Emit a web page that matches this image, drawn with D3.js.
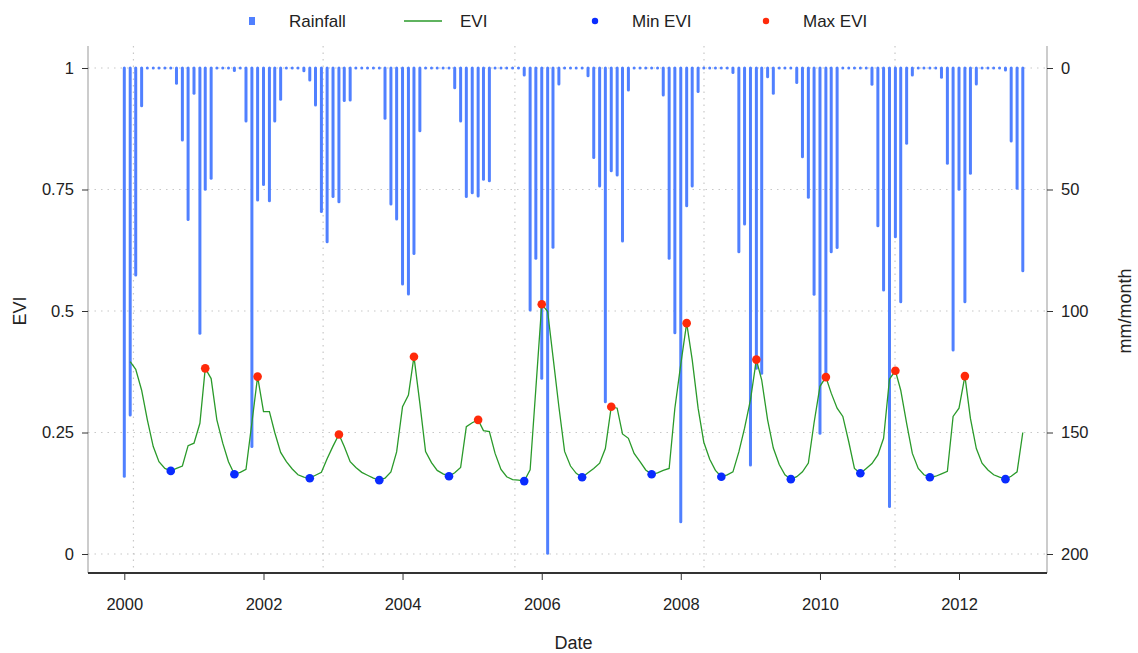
<!DOCTYPE html>
<html><head><meta charset="utf-8">
<script src="https://cdn.jsdelivr.net/npm/d3@7"></script>
<style>
body{margin:0;background:#fff;}
text{font-family:"Liberation Sans",Arial,Helvetica,sans-serif;}
</style></head>
<body><svg id="c" width="1138" height="653"></svg>
<script>
// ---------- data ----------
const startMonth = "2000-01";           // first month of rainfall series
const evStartMonth = "2000-02";         // first month of EVI series
const rainfall = [
 168,142.8,85.2,15.5,0,0,0,0,0,6.3,29.6,62.3,
 10.4,109.2,49.9,45.4,0,0,0,1,0,21.8,155.8,54.3,
 47.9,54.6,21.8,12.9,0,0,0,1.1,4.9,15.2,59.1,71.5,
 52.9,55,13.4,13.2,0,0,0,0,0,20.7,56,62.1,
 88.9,93,76.3,25.8,0,0,0,0,0,8.1,21.8,52.9,
 51.3,52.7,45.8,46.4,0,0,0,0,0,2.9,99.6,78.3,
 127.7,199.7,73.8,6.6,0,0,0,0,3.2,36.8,48.6,137.3,
 42.3,44,71.2,9.1,0,0,0,0,0,11.1,78.3,108.9,
 186.7,56.7,48.6,9.7,0,0,0,0,0,1.9,75.6,64.2,
 163.4,123.6,125.6,3.6,10.4,0,0,0,6,36.5,53.2,93.1,
 150.3,127,75.6,73.9,0,0,0,0,0,6.7,64.9,91.4,
 180.5,69.4,96.2,31,2.9,0,0,0,0,3.8,39.2,116,
 49.9,96.2,43.3,6.6,0,0,0,0,0.8,30,49.5,83.4
];
const evi = [
 0.396,0.380,0.337,0.276,0.221,0.190,0.176,0.171,0.176,0.181,0.223,
 0.228,0.269,0.382,0.361,0.276,0.228,0.190,0.164,0.168,0.174,0.270,0.365,
 0.293,0.293,0.250,0.209,0.190,0.175,0.163,0.158,0.156,0.162,0.168,0.196,
 0.222,0.246,0.221,0.190,0.178,0.168,0.162,0.156,0.152,0.156,0.169,0.210,
 0.303,0.327,0.406,0.310,0.211,0.188,0.172,0.165,0.160,0.167,0.178,0.262,
 0.270,0.276,0.254,0.252,0.207,0.174,0.159,0.153,0.152,0.150,0.173,0.340,
 0.514,0.499,0.406,0.303,0.211,0.181,0.166,0.158,0.167,0.176,0.187,0.217,
 0.303,0.300,0.247,0.238,0.207,0.190,0.173,0.164,0.167,0.172,0.176,0.300,
 0.390,0.475,0.400,0.300,0.230,0.195,0.172,0.159,0.163,0.169,0.210,0.259,
 0.317,0.400,0.358,0.276,0.218,0.184,0.163,0.154,0.159,0.169,0.187,0.270,
 0.345,0.364,0.331,0.300,0.283,0.231,0.176,0.166,0.176,0.186,0.204,0.238,
 0.360,0.377,0.337,0.269,0.207,0.176,0.163,0.158,0.160,0.165,0.170,0.283,
 0.300,0.366,0.279,0.217,0.187,0.173,0.163,0.158,0.154,0.160,0.169,0.250
];
const minMonths = ["2000-09","2001-08","2002-09","2003-09","2004-09","2005-10","2006-08","2007-08","2008-08","2009-08","2010-08","2011-08","2012-09"];
const maxMonths = ["2001-03","2001-12","2003-02","2004-03","2005-02","2006-01","2007-01","2008-02","2009-02","2010-02","2011-02","2012-02"];
const eviTicks = [0,0.25,0.5,0.75,1];
const eviTickLabels = ["0","0.25","0.5","0.75","1"];
const rainTicks = [0,50,100,150,200];
const yearTicks = [2000,2002,2004,2006,2008,2010,2012];
const gridDates = ["2000-02-18","2002-11-10","2005-08-13","2008-05-02","2011-01-30"];
const legendItems = ["Rainfall","EVI","Min EVI","Max EVI"];

// ---------- helpers ----------
const parseM = d3.timeParse("%Y-%m");
const parseD = d3.timeParse("%Y-%m-%d");
const addMonths = (d,n)=>d3.timeMonth.offset(d,n);
const rainData = rainfall.map((v,i)=>({date:addMonths(parseM(startMonth),i),v}));
const eviData = evi.map((v,i)=>({date:addMonths(parseM(evStartMonth),i),v}));
const eviByKey = new Map(eviData.map(d=>[d3.timeFormat("%Y-%m")(d.date),d]));
const minPts = minMonths.map(k=>eviByKey.get(k));
const maxPts = maxMonths.map(k=>eviByKey.get(k));

// ---------- layout ----------
const L=88, R=1047, T=46, B=573;
const x = d3.scaleTime().domain([new Date(2000,0,1), new Date(2012,0,1)]).range([124.3, 959]);
const yE = d3.scaleLinear().domain([0,1]).range([554,68]);
const yR = d3.scaleLinear().domain([0,200]).range([68,554]);

const svg = d3.select("#c");
const COL_RAIN="#5080ff", COL_EVI="#2a9a2a", COL_MIN="#0a2cff", COL_MAX="#ff2a0a";
const gridStyle = s=>s.attr("stroke","#c8c8c8").attr("stroke-width",1.2).attr("stroke-dasharray","1.5,5");

// grid
svg.append("g").selectAll("line").data(eviTicks).join("line")
  .attr("x1",L).attr("x2",R).attr("y1",d=>yE(d)).attr("y2",d=>yE(d)).call(gridStyle);
svg.append("g").selectAll("line").data(gridDates).join("line")
  .attr("x1",d=>x(parseD(d))).attr("x2",d=>x(parseD(d))).attr("y1",T).attr("y2",B).call(gridStyle);

// rainfall bars
svg.append("g").selectAll("line").data(rainData).join("line")
  .attr("x1",d=>x(d.date)).attr("x2",d=>x(d.date))
  .attr("y1",yR(0)).attr("y2",d=>yR(d.v))
  .attr("stroke",COL_RAIN).attr("stroke-width",3).attr("stroke-linecap","round");

// EVI line
svg.append("path").datum(eviData)
  .attr("d",d3.line().x(d=>x(d.date)).y(d=>yE(d.v)))
  .attr("fill","none").attr("stroke",COL_EVI).attr("stroke-width",1.3);

// points
svg.append("g").selectAll("circle").data(minPts).join("circle")
  .attr("cx",d=>x(d.date)).attr("cy",d=>yE(d.v)).attr("r",4.3).attr("fill",COL_MIN);
svg.append("g").selectAll("circle").data(maxPts).join("circle")
  .attr("cx",d=>x(d.date)).attr("cy",d=>yE(d.v)).attr("r",4.3).attr("fill",COL_MAX);

// axes
const axisG = svg.append("g");
axisG.append("line").attr("x1",L).attr("x2",L).attr("y1",T).attr("y2",B).attr("stroke","#999").attr("stroke-width",1);
axisG.append("line").attr("x1",R).attr("x2",R).attr("y1",T).attr("y2",B).attr("stroke","#999").attr("stroke-width",1);
axisG.append("line").attr("x1",L).attr("x2",R).attr("y1",B).attr("y2",B).attr("stroke","#333").attr("stroke-width",2);

const left = svg.append("g").attr("transform",`translate(${L},0)`)
  .call(d3.axisLeft(yE).tickValues(eviTicks).tickFormat((d,i)=>eviTickLabels[i]).tickSize(6).tickPadding(8));
const right = svg.append("g").attr("transform",`translate(${R},0)`)
  .call(d3.axisRight(yR).tickValues(rainTicks).tickSize(6).tickPadding(8));
const bottom = svg.append("g").attr("transform",`translate(0,${B})`)
  .call(d3.axisBottom(x).tickValues(yearTicks.map(y=>new Date(y,0,1))).tickFormat(d3.timeFormat("%Y")).tickSize(7).tickPadding(18));
[left,right,bottom].forEach(g=>{
  g.select(".domain").remove();
  g.selectAll(".tick line").attr("stroke","#333").attr("stroke-width",1);
  g.selectAll(".tick text").attr("fill","#222").style("font-size","16.5px");
});

// axis titles
svg.append("text").attr("x",(L+R)/2+6).attr("y",649).attr("text-anchor","middle").attr("font-size",18).attr("fill","#222").text("Date");
svg.append("text").attr("transform","translate(26,311) rotate(-90)").attr("text-anchor","middle").attr("font-size",18).attr("fill","#222").text("EVI");
svg.append("text").attr("transform","translate(1131,311) rotate(-90)").attr("text-anchor","middle").attr("font-size",18).attr("fill","#222").text("mm/month");

// legend
const lg = svg.append("g");
const lx = [252,423,595,766], ly=21;
lg.append("rect").attr("x",lx[0]-3).attr("y",ly-4).attr("width",6).attr("height",8).attr("fill",COL_RAIN);
lg.append("line").attr("x1",lx[1]-19).attr("x2",lx[1]+19).attr("y1",ly).attr("y2",ly).attr("stroke",COL_EVI).attr("stroke-width",1.5);
lg.append("circle").attr("cx",lx[2]).attr("cy",ly).attr("r",3.2).attr("fill",COL_MIN);
lg.append("circle").attr("cx",lx[3]).attr("cy",ly).attr("r",3.2).attr("fill",COL_MAX);
lg.selectAll("text").data(legendItems).join("text")
  .attr("x",(d,i)=>lx[i]+37).attr("y",ly+6).attr("font-size",17).attr("fill","#222").text(d=>d);
</script></body></html>
